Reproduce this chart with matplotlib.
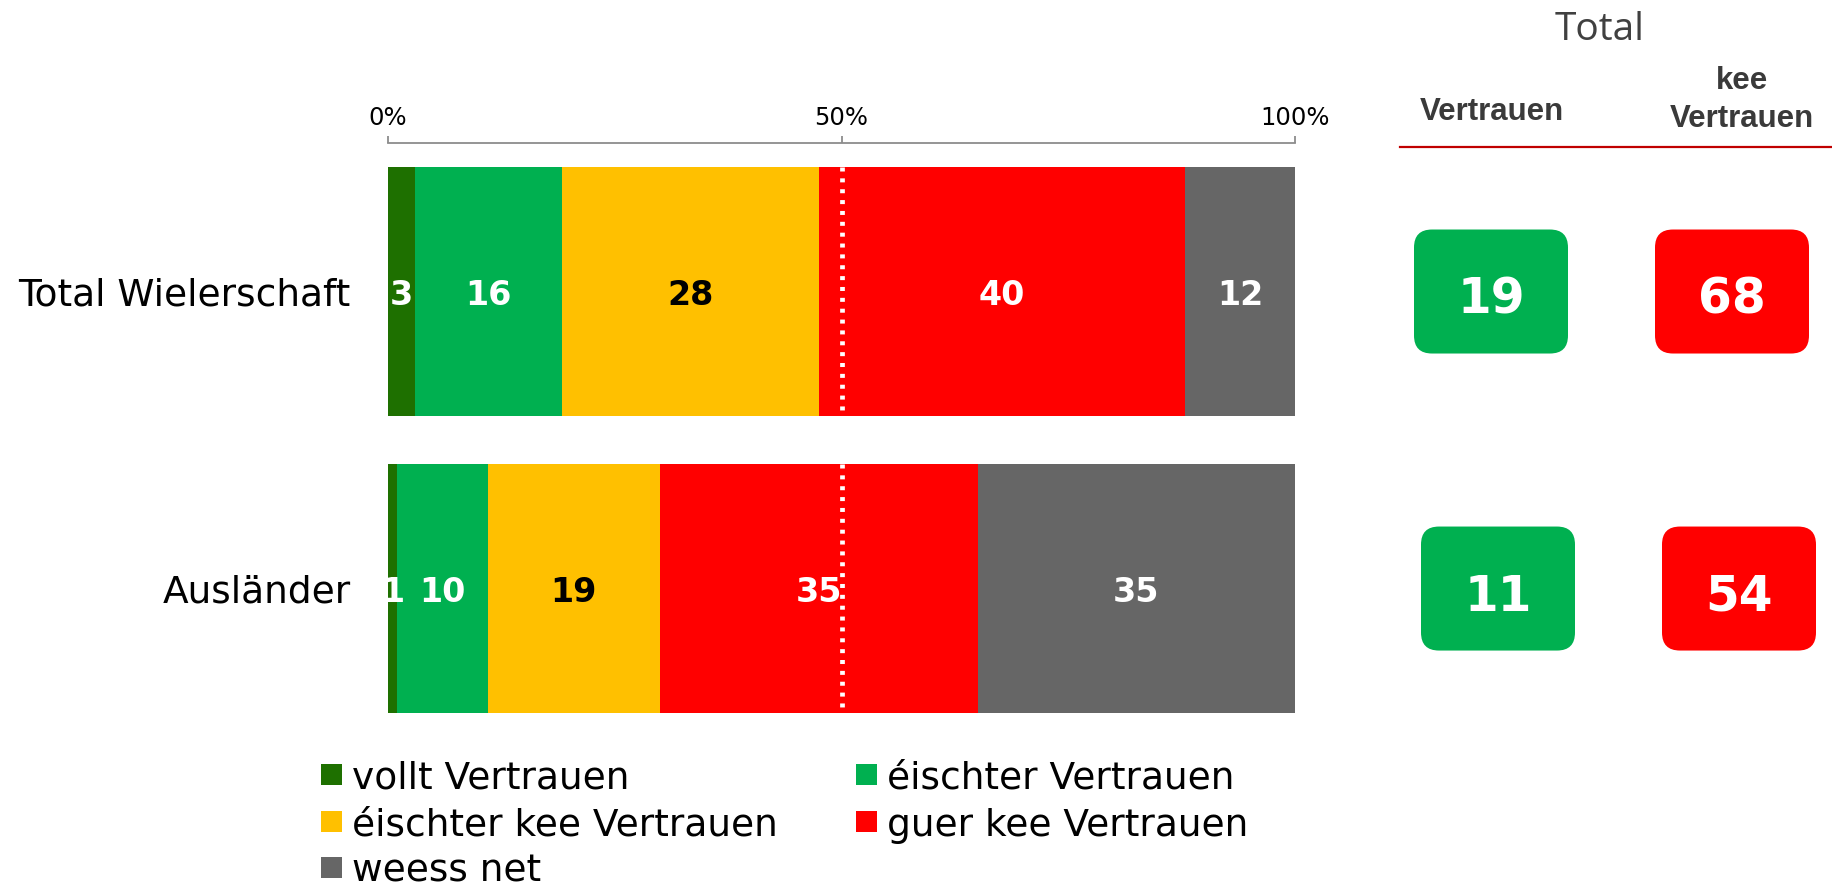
import matplotlib
matplotlib.use("Agg")
import matplotlib.pyplot as plt
from matplotlib.patches import FancyBboxPatch, Rectangle
from matplotlib.lines import Line2D

# survey data: share of answers per group (percent)
groups = ["Total Wielerschaft", "Ausländer"]
answers = ["vollt Vertrauen", "éischter Vertrauen", "éischter kee Vertrauen",
           "guer kee Vertrauen", "weess net"]
vollt = [3, 1]
eischter = [16, 10]
eischter_kee = [28, 19]
guer_kee = [40, 35]
weess_net = [12, 35]
ticks = [0, 50, 100]
tick_labels = ["0%", "50%", "100%"]

colors = ["#1E7000", "#00B050", "#FFC000", "#FF0000", "#666666"]
text_colors = ["white", "white", "black", "white", "white"]

W, H = 1832, 884
fig = plt.figure(figsize=(W / 100, H / 100), dpi=100)
plt.rcParams["font.family"] = "DejaVu Sans"

# main stacked bar panel, pixel layout converted to figure fractions
ax = fig.add_axes([388 / W, 1 - 713 / H, (1295 - 388) / W, (713 - 143) / H])
ax.set_xlim(0, 100)
ax.set_ylim(1.419, -0.5)
bar_h = 0.838

series = [vollt, eischter, eischter_kee, guer_kee, weess_net]
for row in range(len(groups)):
    vals = [s[row] for s in series]
    total = sum(vals)
    left = 0
    for k, v in enumerate(vals):
        w = v / total * 100
        ax.barh(row, w, left=left, height=bar_h, color=colors[k], linewidth=0)
        ax.text(left + w / 2, row, str(v), ha="center", va="center_baseline",
                fontsize=24, fontweight="bold", color=text_colors[k])
        left += w
    # 50% marker
    ax.vlines(50, row - bar_h / 2, row + bar_h / 2, colors="white",
              linestyles=(0, (0.85, 1.45)), linewidth=3.4)

for side in ["bottom", "left", "right"]:
    ax.spines[side].set_visible(False)
ax.spines["top"].set_color("#8C8C8C")
ax.spines["top"].set_linewidth(1.3)
ax.xaxis.tick_top()
ax.set_xticks(ticks, tick_labels)
ax.tick_params(axis="x", length=5, width=1.3, color="#8C8C8C", pad=4.5,
               labelsize=17.5)
ax.set_yticks(range(len(groups)), groups)
ax.tick_params(axis="y", length=0, pad=27, labelsize=27)

# summary boxes: trust vs. no trust
ax2 = fig.add_axes([1400 / W, 1 - 713 / H, 432 / W, (713 - 143) / H])
ax2.set_xlim(1400, 1832)
ax2.set_ylim(1.419, -0.5)
ax2.axis("off")
px_per_unit = 297
box_w, box_h = 154, 124 / px_per_unit
col_x = [1491, 1732]
row_shift = [0, 7]
for row in range(len(groups)):
    trust = vollt[row] + eischter[row]
    no_trust = eischter_kee[row] + guer_kee[row]
    for c, (val, col) in enumerate([(trust, "#00B050"), (no_trust, "#FF0000")]):
        cx = col_x[c] + row_shift[row]
        box = FancyBboxPatch((cx - box_w / 2, row - box_h / 2), box_w, box_h,
                             boxstyle="round,pad=0,rounding_size=18",
                             mutation_aspect=1 / px_per_unit,
                             facecolor=col, edgecolor="none")
        ax2.add_patch(box)
        ax2.text(cx, row + 0.01, str(val), ha="center", va="center_baseline",
                 fontsize=35, fontweight="bold", color="white")

# column headers
fig.text(1600 / W, 1 - 40 / H, "Total", ha="center", va="baseline",
         fontsize=28, family="Open Sans", color="#404040")
hdr = dict(ha="center", va="baseline", fontsize=22.5, family="Liberation Sans",
           fontweight="bold", color="#3A3A3A")
fig.text(1492 / W, 1 - 120 / H, "Vertrauen", **hdr)
fig.text(1742 / W, 1 - 89 / H, "kee", **hdr)
fig.text(1742 / W, 1 - 127 / H, "Vertrauen", **hdr)
fig.add_artist(Line2D([1400 / W, 1.0], [1 - 147 / H] * 2, color="#C00000", lw=1.6))

# legend, laid out in rows of two
leg_cols = [321, 856]
leg_rows = [774.5, 821.5, 867]
sq = 21
for i, (lab, col) in enumerate(zip(answers, colors)):
    x0 = leg_cols[i % 2]
    yc = leg_rows[i // 2]
    fig.add_artist(Rectangle((x0 / W, 1 - (yc + sq / 2) / H), sq / W, sq / H,
                             facecolor=col, edgecolor="none",
                             transform=fig.transFigure))
    fig.text((x0 + sq + 10) / W, 1 - yc / H, lab, ha="left",
             va="center_baseline", fontsize=27)

fig.savefig("out.png", dpi=100, facecolor="white")
